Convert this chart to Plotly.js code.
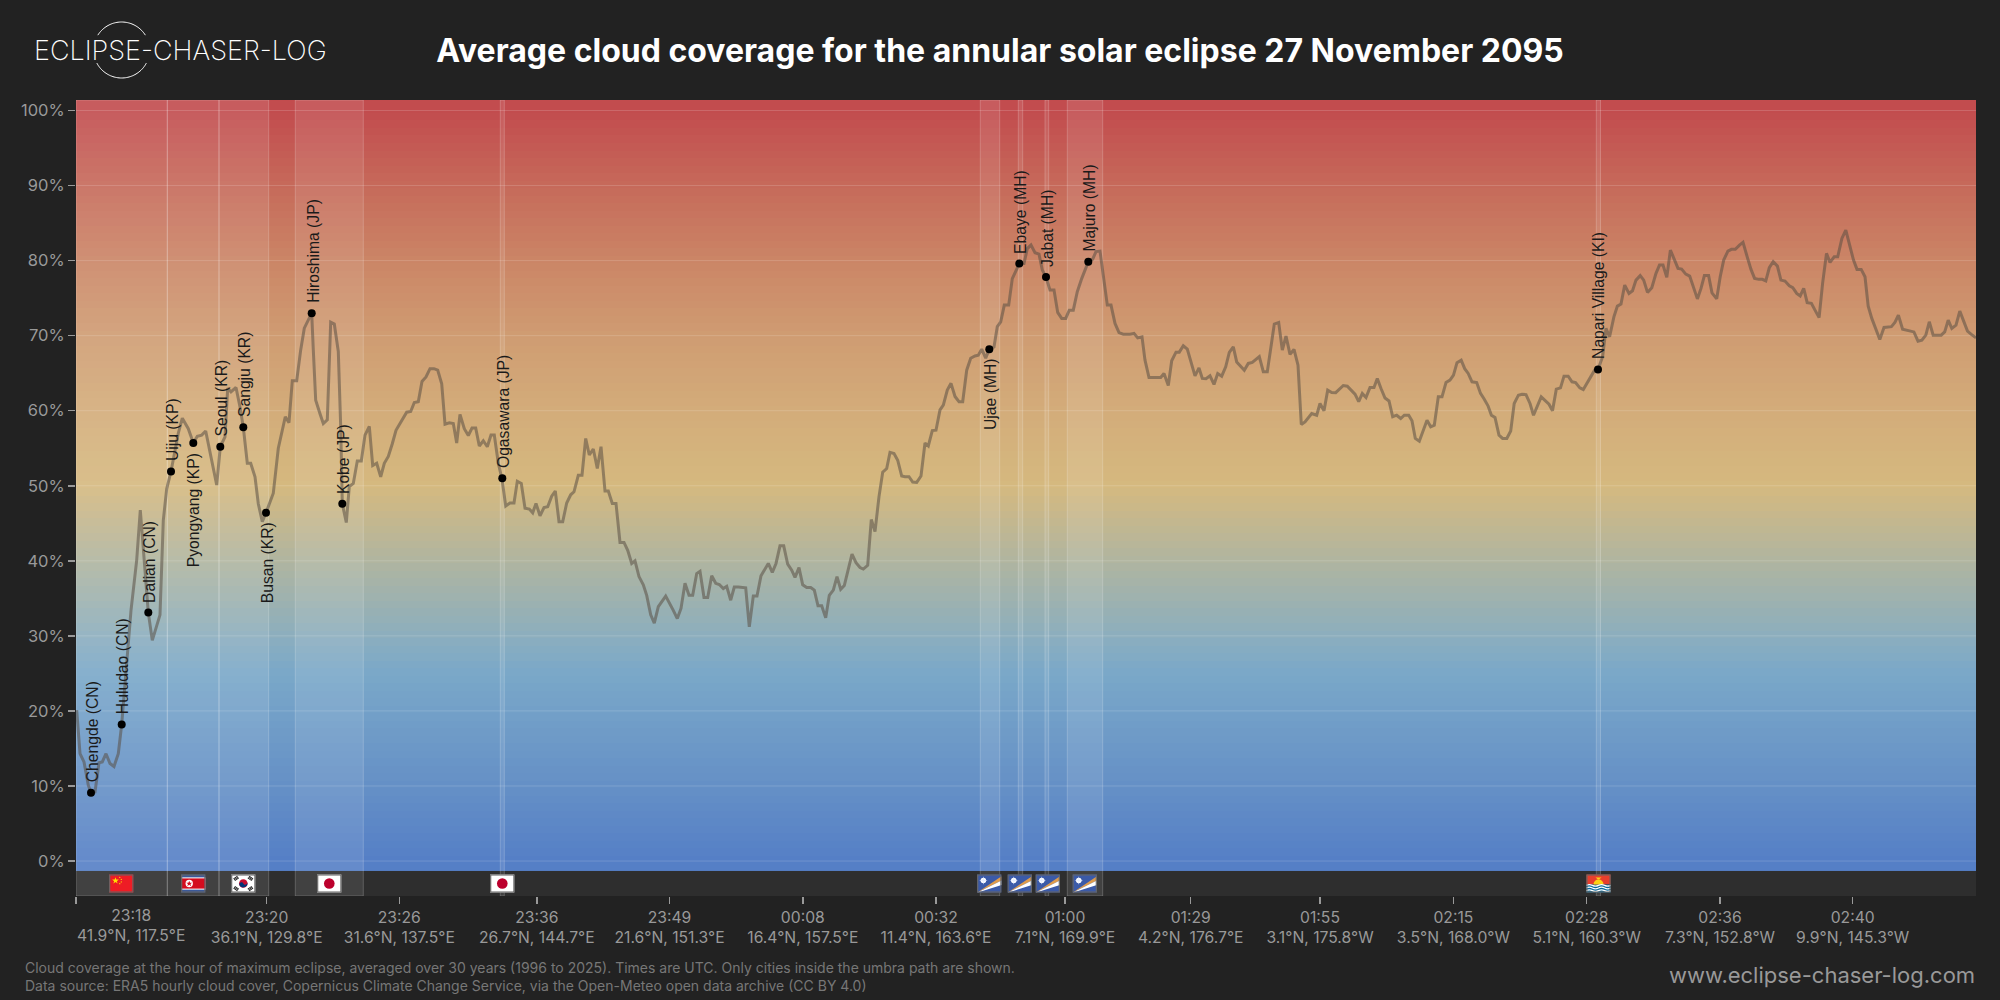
<!DOCTYPE html>
<html><head><meta charset="utf-8">
<script src="https://cdn.plot.ly/plotly-3.0.1.min.js"></script>
<style>html,body{margin:0;padding:0;background:#222222}#chart{width:2000px;height:1000px}</style>
</head><body><div id="chart"></div>
<script>
// Position along the eclipse track (axis units) and cloud cover (%)
const trackPos = [0.7,4,8,12.3,15,19,23,26.3,30,34,38,42.3,45.7,52.3,55,60.7,64.3,72.3,76.3,84,87.3,90.7,95,102.3,106.3,112.3,117.3,121.3,125.7,129.7,134,140.7,144.3,149,151.7,155,160,164,167.3,171.3,174.7,179,182.3,186.3,190,197.3,202.3,205.7,209.3,213,216.3,220.7,224.7,228.3,232.3,235.7,237.3,239.7,244,247.3,251.3,254.7,258.3,262.3,264.7,266.3,270.3,273.3,277.3,281.3,285.3,289,293.3,296.7,300.7,304.7,308.3,312.3,316.3,320,324,330.7,334.7,338.3,342.3,346,350,354,358,361.7,365.7,369,373.3,377.3,380.7,384,388.3,392.3,396,399.7,403.3,407.3,411.3,415,418.3,422.3,426,
429.7,434,438,441.3,445.3,449,453.3,456.7,460,464,468,471.7,475.7,479.3,483,486.7,490.7,494.7,498,502.3,506,509.7,513.3,517.3,521.3,525,529,532.3,536.3,540,544,548,551.7,555.7,559,563,567.3,570.7,574.7,578.3,582.3,589.7,594,597.3,601.3,605,609,613,616.7,620.7,624,628,631.7,635.7,639.7,643.3,647.3,650.7,654.7,658.3,662.3,669.7,673.3,677.3,681,685,692.3,696.3,700,704,707.7,711.7,715.7,719,723,726.7,730.7,734.7,738.3,742,745.7,749.7,753.3,757.3,761,764.7,768.3,772.3,776,780,784,787.3,791.7,795.3,799,803,806.7,810.7,814,818,821.7,825.7,829,833,836.7,840.7,845,849,852.3,856.3,860,864,867.3,871.3,875,879,883,886.7,890.7,894.7,899,902.3,905.7,909.7,913.3,918,921.3,924.7,928.3,932.7,936.3,943.3,948,951.3,955,959,963,966.3,970,974,978,981.7,985.7,989.7,993.3,997.3,1001.3,1005.7,1012.3,1016.7,1020,1024,1027.3,1031.3,1035,1039,1043,1047.3,1054,1058,1061.7,1066,1069,1073,1080,1084.7,1088,1092.3,1095.7,1100,1103.3,1107.3,1111.3,1115,1119,1123,1126.3,1130,1134,1138,1141.7,1145.7,1149.7,1153.3,1157.3,1160.7,1164.7,1168.3,1172.3,1176.3,1183.3,1187.3,1191.3,1194.7,1198.3,1202.7,1206.3,1210,1214,1218,1222,1225.3,1229,1235.7,1240.7,1244,1248,1251.7,1255.7,1259.7,1264,1267.3,1271.3,1279,1282.7,1286.3,1290,1294,1298,1301.3,1305,1309,1313,1316.7,1320.7,1324.7,1328.3,1332.7,1336,1339.3,1343.3,1347.3,1351,1354.7,1358.3,1362.3,1366,1370,1374,1377.5,1381,1385.2,1388.7,1392.2,1396,1400.7,1404.5,1408,1412,1415.4,1419,1423,1426.6,1430.8,1434.7,1438.2,1442.4,1446,1450,1454,1457.5,1465.2,1469.4,1473,1476.5,1480.3,1484.5,1488,1492.2,1496,1499.6,1503.8,1507.3,1514.4,1518.6,1522,1526.6,1530,1533.6,1537.9,1541.4,1545,1548.7,1553,1556.5,1560,1564.2,1567.7,1571.5,1575.8,1580,1583.5,1587,1590.8,1594.4,1598.6,1602,1605.6,1609.8,1613.7,1617.9,1621.4,1625,1628.4,1632.6,1636,1640.7,1644.2,1647.7,1651.9,1655.4,1659.3,1663.5,1667,1671.2,1675,1678.6,1682.8,1686.3,1689.8,1693.3,1697.2,1701.4,1704.9,1709,1713.3,1716.8,1720.7,1724.2,1727.7,1731.2,1735.4,1739,1743.1,1746.6,1750.5,1754,1758.2,1761.7,1765.9,1769.8,1773.3,1777.5,1781,1785.2,1789,1792.2,1795.8,1799.6,1803.8,1808,1815.4,1818.9,1822.4,1826.6,1830.1,1837.9,1842,1845.9,1849.8,1853.3,1857.2,1865.2,1868.7,1872.2,1875.8,1880,1883.8,1888,1891.5,1895,1900];
const cloudCover = [20.1,14.3,13.2,10.1,9.1,9.2,13.1,13.2,14.3,13,12.6,14.3,18.2,29,33.4,40.1,46.75,33.1,29.4,32.8,45.4,49.6,51.9,57,59,57.6,55.7,56.6,56.75,57.3,54.3,50.1,55.2,56.5,63,62.5,63.1,60.5,57.8,53,53,51.2,47.6,45.2,46.4,49,55,57.2,59.2,58.4,64,64,68.1,71,72.1,73,68.1,61.4,59.6,58.3,58.8,71.8,71.55,67.9,57.9,47.6,45.1,49.9,50.3,53.3,53.3,56.75,57.9,52.7,53,51.2,53,53.9,55.6,57.4,58.3,59.8,59.9,61.1,61.2,63.9,64.5,65.6,65.6,65.4,63.6,58.2,58.4,58.3,55.7,59.5,57.6,56.7,57.7,57.7,55.3,56,55.2,56.75,56.75,53,50.9,
47.3,47.7,47.7,50.6,50.3,47,46.9,46.4,47.65,46,47.1,47.2,48.6,49.3,45.2,45.2,47.7,48.8,49.2,51.4,51.4,56.3,54.1,54.9,52.3,55.2,49.3,49.3,47.65,47.65,42.45,42.45,41.4,39.65,40,37.9,36.8,35.4,32.8,31.7,33.9,35.3,34.1,33.4,32.3,33.65,37,35.4,35.4,38.3,38.6,35.1,35.1,38,37,36.85,36.3,36.6,34.75,36.5,36.5,36.4,31.2,35.3,35.3,38,39.65,38.45,39.65,42,42,39.55,38.75,37.8,39.1,36.8,36.45,36.45,36.1,34,34,32.4,35.4,36.1,37.9,36.2,36.7,38.75,40.9,39.75,39.1,38.9,39.4,45.5,43.9,48.55,51.8,52.3,54.45,54.3,53.4,51.3,51.2,51.2,50.5,50.45,51.3,55.7,55.3,57.35,57.4,60.1,60.75,62.75,63.65,61.9,61.2,61.2,65.4,67,67.3,67.4,68.2,67,68.2,68.5,71.2,71.85,74.07,74.07,77.6,79.6,79.6,81.6,82.07,81.05,80.87,78.74,77.8,76.07,76.07,73.1,72.3,72.3,73.4,73.4,75.85,77.6,79.85,80.2,81.2,81.27,77.85,74.07,74.07,71.63,70.4,70.2,70.2,70.3,69.7,69.85,66.74,64.43,64.43,64.43,64.96,63.36,66.65,67.8,67.8,68.65,68.2,66.5,64.65,65.7,64.3,64.25,64.65,63.5,64.96,64.6,65.85,67.76,68.5,66.5,65.94,65.4,66.3,66.43,67.2,65.2,65.2,68.07,71.54,71.76,68.07,69.94,67.5,68.16,66.07,58.16,58.5,59.63,59.4,60.96,60,62.74,62.43,62.4,62.96,63.36,63.27,62.2,61.2,62.3,61.76,63.1,63.1,64.3,62.96,61.7,61.3,59.2,59.4,58.96,59.4,59.4,58.65,56.3,55.94,57.4,58.74,57.85,58.07,61.85,61.85,63.76,64.07,64.74,66.4,66.74,65.6,64.96,63.85,63.76,62.3,61.6,60.65,59.4,59.1,56.74,56.3,56.3,57.3,60.96,62.07,62.2,62.15,60.96,59.4,61.85,61.27,60.87,60,62.87,63.05,64.6,64.6,63.85,63.76,63.05,62.83,64.5,65.4,65.5,67.2,70.96,69.85,72.5,73.94,74.2,76.74,75.63,75.98,77.4,78,77.4,75.76,76.4,78.3,79.4,79.4,77.76,81.4,80.07,78.96,78.87,78.2,77.94,76.3,74.9,76.3,78,78,75.7,74.9,77.85,80.07,81.27,81.5,81.5,82.07,82.43,80.5,78.83,77.63,77.5,77.5,77.3,79.05,79.85,79.27,77.4,77.27,76.65,76.4,75.63,75.3,76.3,74.4,74.3,73.4,72.4,76.96,80.96,79.76,80.5,80.5,82.96,84.07,82.07,80.07,78.83,78.83,77.85,73.94,72.3,70.96,69.5,71.1,71.2,71.76,72.74,70.87,70.74,70.5,69.27,69.4,70.07,71.85,70.07,70.07,70.5,72.07,70.96,71.4,73.27,71.85,70.6,70.2,69.7];

// Cities
const cityNames = ["Chengde (CN)","Huludao (CN)","Dalian (CN)","Uiju (KP)","Pyongyang (KP)","Seoul (KR)","Sangju (KR)","Busan (KR)","Hiroshima (JP)","Kobe (JP)","Ogasawara (JP)","Ujae (MH)","Ebaye (MH)","Jabat (MH)","Majuro (MH)","Napari Village (KI)"];
const cityPos   = [15,45.7,72.3,95,117.3,144.3,167.3,190,235.7,266.3,426.3,913.3,943.3,970,1012.3,1522];
const cityCloud = [9.1,18.2,33.1,51.9,55.7,55.2,57.8,46.4,73,47.6,51,68.2,79.6,77.8,79.85,65.5];
const cityBelow = ["Pyongyang (KP)","Busan (KR)","Ujae (MH)"];

// Country spans along the track
const bandStart = [0,91.3,143,219.3,424.3,904.3,942.3,969,991.3,1520.3];
const bandEnd   = [91.3,143,192.7,287.3,428.3,923.7,946.7,972.7,1026.7,1524.5];

// Flags
const flagCodes = ["cn","kp","kr","jp","jp","mh","mh","mh","mh","ki"];
const flagPos   = [45.3,117.3,167.3,253.3,426.3,913.3,943.7,971.7,1008.7,1522.5];

// Axis ticks
const xTickVals = [0,190.7,323.3,460.8,593.5,726.8,860,989,1114.7,1244,1377.4,1510.7,1644,1776.7];
const xTickTimes = ["23:18","23:20","23:26","23:36","23:49","00:08","00:32","01:00","01:29","01:55","02:15","02:28","02:36","02:40"];
const xTickCoords = ["41.9°N, 117.5°E","36.1°N, 129.8°E","31.6°N, 137.5°E","26.7°N, 144.7°E","21.6°N, 151.3°E","16.4°N, 157.5°E","11.4°N, 163.6°E","7.1°N, 169.9°E","4.2°N, 176.7°E","3.1°N, 175.8°W","3.5°N, 168.0°W","5.1°N, 160.3°W","7.3°N, 152.8°W","9.9°N, 145.3°W"];
const yTickVals = [0,10,20,30,40,50,60,70,80,90,100];
const yTickText = yTickVals.map(v => v + "%");

// Background colour ramp (% → colour)
const rampStops = [0,10,20,25,30,40,50,60,70,80,90,100];
const rampColors = ["#557fc6","#6590c6","#73a0c8","#7aa8c8","#8caebe","#b0b5a0","#d5b97f","#d3ac7a","#cf9c72","#cb8566","#c66a5a","#c24c4e"];

const xRange = [0,1900], yRange = [-4.66,101.4];
const px = x => (x-76)/1900, py = y => (896-y)/796;

const FONT = "Inter, 'Noto Sans', sans-serif";

function svgUri(s){return "data:image/svg+xml;base64,"+btoa(s);}
function flagSvg(code){
  const wrap = b => `<svg xmlns="http://www.w3.org/2000/svg" width="96" height="72" viewBox="0 0 24 18" preserveAspectRatio="none">${b}<rect x=".6" y=".6" width="22.8" height="16.8" fill="none" stroke="#666" stroke-width="1.2"/></svg>`;
  if(code==="cn") return wrap(`<rect width="24" height="18" fill="#ee1c25"/><path d="M6.3 2.8l.8 2.4h2.5l-2 1.5.8 2.4-2.1-1.5-2.1 1.5.8-2.4-2-1.5h2.5z" fill="#ffde00"/><circle cx="10.5" cy="3" r=".6" fill="#ffde00"/><circle cx="12" cy="5" r=".6" fill="#ffde00"/><circle cx="12" cy="7.5" r=".6" fill="#ffde00"/><circle cx="10.5" cy="9.2" r=".6" fill="#ffde00"/>`);
  if(code==="kp") return wrap(`<rect width="24" height="18" fill="#3c5a9a"/><rect y="3" width="24" height="12" fill="#fff"/><rect y="4" width="24" height="10" fill="#d40c1e"/><circle cx="8" cy="9" r="3.6" fill="#fff"/><path d="M8 6.2l.8 2h2.1l-1.7 1.3.7 2.1-1.9-1.3-1.9 1.3.7-2.1-1.7-1.3h2.1z" fill="#d40c1e"/>`);
  if(code==="kr"){
    const tri=(x,y,a)=>`<g transform="translate(${x} ${y}) rotate(${a})"><rect x="-2.4" y="-1.5" width="4.8" height=".8" fill="#111"/><rect x="-2.4" y="-.4" width="4.8" height=".8" fill="#111"/><rect x="-2.4" y=".7" width="4.8" height=".8" fill="#111"/></g>`;
    return wrap(`<rect width="24" height="18" fill="#fff"/><circle cx="12" cy="9" r="4.2" fill="#c60c30"/><path d="M8.1 10.5a4.2 4.2 0 0 0 7.8 -3a2.1 2.1 0 0 1 -3.9 1.5a2.1 2.1 0 0 0 -3.9 1.5z" fill="#003478"/>`+tri(5,4,-35)+tri(19,4,35)+tri(5,14,35)+tri(19,14,-35));
  }
  if(code==="jp") return wrap(`<rect width="24" height="18" fill="#fff"/><circle cx="12" cy="9" r="5.2" fill="#bc002d"/>`);
  if(code==="mh") return wrap(`<rect width="24" height="18" fill="#3b5aa8"/><path d="M0 18L24 2V6z" fill="#dd9b4c"/><path d="M0 18L24 6V10.5z" fill="#fff"/><circle cx="6.2" cy="6" r="2.7" fill="#fff"/><path d="M6.2 1.8l.7 3.5 3.5.7-3.5.7-.7 3.5-.7-3.5-3.5-.7 3.5-.7z" fill="#e8eeff"/>`);
  if(code==="ki"){
    let waves=""; for(let i=0;i<3;i++){ waves+=`<path d="M0 ${10.8+i*2.6}q3 -1.6 6 0t6 0t6 0t6 0" stroke="#fff" stroke-width="1.2" fill="none"/>`; }
    return wrap(`<rect width="24" height="10" fill="#e73e2d"/><rect y="10" width="24" height="8" fill="#0a6a9a"/><path d="M7 10a5 5 0 0 1 10 0z" fill="#fcd116"/><path d="M9 3.2h6l-2 1.3h-2z" fill="#fcd116"/><path d="M11 5l1 4 1-4z" fill="#fcd116"/>`+waves);
  }
}

// Gradient rows, one per percentage step so banding matches
const rowY = []; for(let v=-0.83; v<=102; v+=1) rowY.push(v);
const colorscale = rampStops.map((s,i)=>[s/100, rampColors[i]]);
const heat = {type:"heatmap", x:[-100,2000], y:rowY, z:rowY.map(v=>[v,v]), zmin:0, zmax:100,
  colorscale, showscale:false, hoverinfo:"skip", zsmooth:false};

// Country spans
const bx=[],by=[];
bandStart.forEach((s,i)=>{const e=bandEnd[i]; bx.push(s,e,e,s,s,null); by.push(yRange[0],yRange[0],yRange[1],yRange[1],yRange[0],null);});
const bands = {type:"scatter",mode:"lines",x:bx,y:by,fill:"toself",fillcolor:"rgba(255,255,255,0.095)",
  line:{color:"rgba(255,255,255,0.2)",width:1},hoverinfo:"skip",connectgaps:false};

// Horizontal grid drawn over the gradient
const gx=[],gy=[];
yTickVals.forEach(v=>{gx.push(xRange[0],xRange[1],null);gy.push(v,v,null);});
const grid = {type:"scatter",mode:"lines",x:gx,y:gy,line:{color:"rgba(255,255,255,0.16)",width:1},hoverinfo:"skip"};

const line = {type:"scatter",mode:"lines",x:trackPos,y:cloudCover,line:{color:"rgba(90,78,68,0.55)",width:3,shape:"linear"},hoverinfo:"skip"};
const dots = {type:"scatter",mode:"markers",x:cityPos,y:cityCloud,marker:{color:"#000",size:8},text:cityNames,hoverinfo:"text"};

const annotations = cityNames.map((n,i)=>{
  const below = cityBelow.includes(n);
  return {x:cityPos[i],y:cityCloud[i],xref:"x",yref:"y",text:n,showarrow:false,textangle:-90,
    yanchor:below?"top":"bottom",xanchor:"center",yshift:below?-9:9,xshift:1,borderpad:0,
    font:{family:"'Liberation Sans', Arial, sans-serif",size:15.7,color:"#1a1a1a"}};
});
// First tick label sits inside the axis start
annotations.push({xref:"paper",yref:"paper",x:px(131),y:py(925),text:xTickTimes[0]+"<br>"+xTickCoords[0],showarrow:false,
  xanchor:"center",yanchor:"middle",align:"center",font:{family:FONT,size:15.7,color:"#999"},borderpad:0});
// Logo
annotations.push({xref:"paper",yref:"paper",x:px(33),y:py(50),text:"ECLIPSE-CHASER-LOG",showarrow:false,xanchor:"left",yanchor:"middle",
  font:{family:FONT,size:27,color:"#fff",weight:200},borderpad:0});
// Footnotes
annotations.push({xref:"paper",yref:"paper",x:px(24),y:py(976),text:"Cloud coverage at the hour of maximum eclipse, averaged over 30 years (1996 to 2025). Times are UTC. Only cities inside the umbra path are shown.<br>Data source: ERA5 hourly cloud cover, Copernicus Climate Change Service, via the Open-Meteo open data archive (CC BY 4.0)",
  showarrow:false,xanchor:"left",yanchor:"middle",align:"left",font:{family:FONT,size:14,color:"#777"},borderpad:0});
annotations.push({xref:"paper",yref:"paper",x:px(1976),y:py(975),text:"www.eclipse-chaser-log.com",showarrow:false,xanchor:"right",yanchor:"middle",
  font:{family:FONT,size:22,color:"#999"},borderpad:0});

function arc(a0,a1){ // logo ring, angles in degrees
  const pts=[]; for(let i=0;i<=48;i++){const a=(a0+(a1-a0)*i/48)*Math.PI/180; pts.push((i?"L":"M")+px(121.6+28*Math.cos(a)).toFixed(5)+","+py(50-28*Math.sin(a)).toFixed(5));}
  return pts.join(" ");
}
const shapes=[
 {type:"path",xref:"paper",yref:"paper",path:arc(32,148),line:{color:"#fff",width:1}},
 {type:"path",xref:"paper",yref:"paper",path:arc(208,332),line:{color:"#fff",width:1}}
];
const images = flagCodes.map((c,i)=>({source:svgUri(flagSvg(c)),xref:"x",yref:"y",x:flagPos[i],y:-1.77,sizex:24.5,sizey:2.45,
  xanchor:"center",yanchor:"top",sizing:"stretch",layer:"above"}));

const layout = {
  width:2000,height:1000,paper_bgcolor:"#222222",plot_bgcolor:"#2e2e2e",showlegend:false,
  margin:{l:76,r:24,t:100,b:104,pad:0},
  font:{family:FONT,color:"#999"},
  title:{text:"Average cloud coverage for the annular solar eclipse 27 November 2095",x:0.5,xanchor:"center",xref:"container",y:0.949,yanchor:"middle",
    font:{family:FONT,size:32,color:"#fff",weight:700}},
  xaxis:{range:xRange,tickmode:"array",tickvals:xTickVals,
    ticktext:xTickTimes.map((t,i)=>i===0?"":t+"<br>"+xTickCoords[i]),
    ticks:"outside",ticklen:7,tickwidth:1.5,tickcolor:"#999",showgrid:false,zeroline:false,showline:false,
    tickfont:{family:FONT,size:15.7,color:"#999"},automargin:false,fixedrange:true},
  yaxis:{range:yRange,tickmode:"array",tickvals:yTickVals,ticktext:yTickText,
    ticks:"outside",ticklen:7,tickwidth:1.5,tickcolor:"#999",showgrid:false,zeroline:false,showline:false,
    tickfont:{family:FONT,size:16.5,color:"#999"},automargin:false,fixedrange:true},
  annotations,shapes,images
};
Plotly.newPlot("chart",[heat,bands,grid,line,dots],layout,{displayModeBar:false,staticPlot:true});
</script></body></html>
